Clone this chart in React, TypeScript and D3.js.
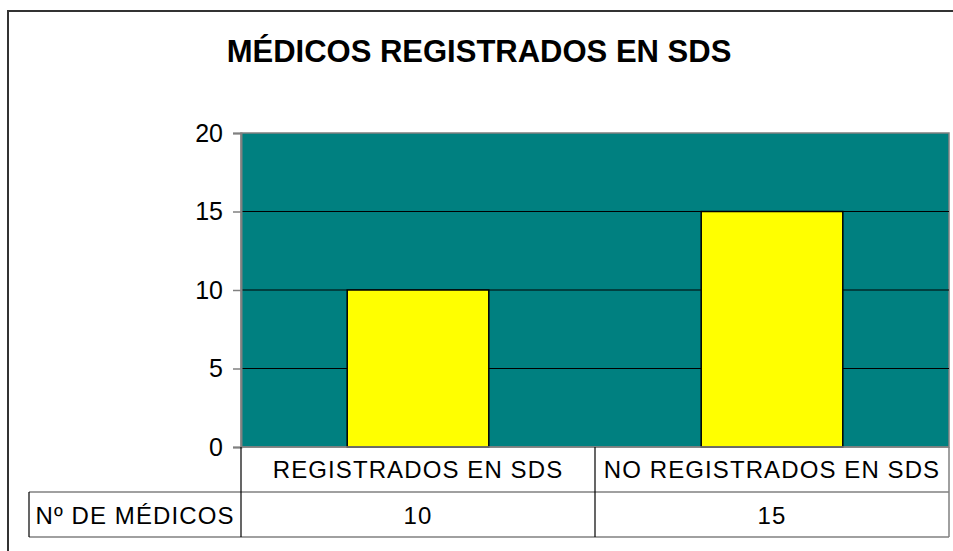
import { useEffect, useRef } from 'react';
import * as d3 from 'd3';

const categories = ['REGISTRADOS EN SDS', 'NO REGISTRADOS EN SDS'];
const values = [10, 15];
const yTicks = [0, 5, 10, 15, 20];
const seriesName = 'Nº DE MÉDICOS';
const title = 'MÉDICOS REGISTRADOS EN SDS';

const W = 953;
const H = 551;
const FONT = "Arial, 'Liberation Sans', sans-serif";

const App = () => {
    const svgRef = useRef<SVGSVGElement>(null);

    useEffect(() => {
        const svg = d3.select(svgRef.current);
        svg.selectAll('*').remove();

        // plot area bounds
        const left = 241;
        const right = 949;
        const top = 133;
        const bottom = 447;
        const row1 = 492;
        const row2 = 537;
        const tableLeft = 29;

        const x = d3.scaleBand<string>().domain(categories).range([left, right]).paddingInner(0).paddingOuter(0);
        const y = d3.scaleLinear().domain([0, 20]).range([bottom, top]);

        // outer chart border
        svg.append('rect')
            .attr('x', 8).attr('y', 11)
            .attr('width', W + 20).attr('height', H + 20)
            .attr('fill', 'white')
            .attr('stroke', '#333').attr('stroke-width', 2);

        // title
        svg.append('text')
            .attr('x', 479).attr('y', 62)
            .attr('text-anchor', 'middle')
            .style('font-family', FONT)
            .style('font-size', '31px')
            .style('font-weight', 'bold')
            .text(title);

        // plot background
        svg.append('rect')
            .attr('x', left).attr('y', top)
            .attr('width', right - left).attr('height', bottom - top)
            .attr('fill', '#008080')
            .attr('stroke', '#808080').attr('stroke-width', 1.5);

        // gridlines
        yTicks.filter(t => t > 0 && t < 20).forEach(t => {
            svg.append('line')
                .attr('x1', left).attr('x2', right)
                .attr('y1', y(t)).attr('y2', y(t))
                .attr('stroke', '#000').attr('stroke-width', 1);
        });

        // bars
        const bw = x.bandwidth() * 0.4;
        svg.selectAll('rect.bar')
            .data(values)
            .enter()
            .append('rect')
            .attr('class', 'bar')
            .attr('x', (d, i) => (x(categories[i]) as number) + (x.bandwidth() - bw) / 2)
            .attr('y', d => y(d))
            .attr('width', bw)
            .attr('height', d => bottom - y(d))
            .attr('fill', '#ffff00')
            .attr('stroke', '#000').attr('stroke-width', 1.5);

        // y axis
        const yAxis = d3.axisLeft(y).tickValues(yTicks).tickSize(8).tickPadding(10);
        const ag = svg.append('g').attr('transform', `translate(${left},0)`).call(yAxis);
        ag.select('.domain').attr('stroke', '#808080').attr('stroke-width', 2);
        ag.selectAll('.tick line').attr('stroke', '#808080').attr('stroke-width', 1.5);
        ag.selectAll('.tick text')
            .attr('fill', '#000')
            .style('font-family', FONT)
            .style('font-size', '25px');

        // data table
        const tbl = svg.append('g');
        const hLine = (x1: number, x2: number, yy: number) =>
            tbl.append('line').attr('x1', x1).attr('x2', x2).attr('y1', yy).attr('y2', yy)
                .attr('stroke', '#808080').attr('stroke-width', 1.5);
        const vLine = (xx: number, y1: number, y2: number) =>
            tbl.append('line').attr('x1', xx).attr('x2', xx).attr('y1', y1).attr('y2', y2)
                .attr('stroke', '#000').attr('stroke-width', 1.2);

        hLine(left, right, bottom);
        hLine(tableLeft, right, row1);
        hLine(tableLeft, right, row2);
        vLine(left, bottom, row2);
        vLine(tableLeft, row1, row2);
        vLine(left + x.bandwidth(), bottom, row2);
        tbl.append('line').attr('x1', right).attr('x2', right).attr('y1', bottom).attr('y2', row2)
            .attr('stroke', '#808080').attr('stroke-width', 1.5);

        const cellText = (tx: number, ty: number, s: string) =>
            tbl.append('text')
                .attr('x', tx).attr('y', ty)
                .attr('text-anchor', 'middle')
                .style('font-family', FONT)
                .style('font-size', '24px')
                .style('letter-spacing', '1.1px')
                .text(s);

        categories.forEach((c, i) => {
            const cx = (x(c) as number) + x.bandwidth() / 2;
            cellText(cx, 478, c);
            cellText(cx, 524, String(values[i]));
        });

        cellText((tableLeft + left) / 2, 524, seriesName);
    }, []);

    return (
        <svg
            ref={svgRef}
            width={W}
            height={H}
            style={{ position: 'absolute', left: 0, top: 0, background: 'white' }}
        />
    );
};

export default App;
